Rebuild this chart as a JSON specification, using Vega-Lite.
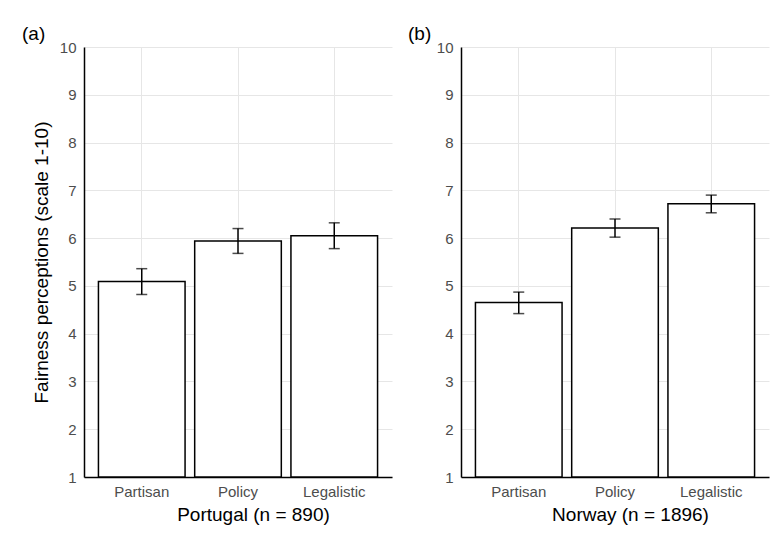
{
  "$schema": "https://vega.github.io/schema/vega-lite/v6.json",
  "background": "white",
  "padding": {"left": 22, "top": 25, "right": 10, "bottom": 10},
  "datasets": {
    "fair": [
      {"country": "Portugal", "type": "Partisan", "mean": 5.09, "lo": 4.82, "hi": 5.36},
      {"country": "Portugal", "type": "Policy", "mean": 5.94, "lo": 5.68, "hi": 6.20},
      {"country": "Portugal", "type": "Legalistic", "mean": 6.05, "lo": 5.78, "hi": 6.32},
      {"country": "Norway", "type": "Partisan", "mean": 4.65, "lo": 4.42, "hi": 4.87},
      {"country": "Norway", "type": "Policy", "mean": 6.21, "lo": 6.02, "hi": 6.40},
      {"country": "Norway", "type": "Legalistic", "mean": 6.72, "lo": 6.53, "hi": 6.90}
    ]
  },
  "config": {
    "font": "Liberation Sans",
    "view": {"stroke": null},
    "axis": {
      "labelFont": "Liberation Sans", "labelFontSize": 15, "labelColor": "#4d4d4d",
      "titleFont": "Liberation Sans", "titleFontSize": 19, "titleFontWeight": "normal", "titleColor": "black",
      "domainColor": "black", "domainWidth": 1.5, "ticks": false,
      "gridColor": "#e6e6e6", "gridWidth": 1
    },
    "title": {"font": "Liberation Sans", "fontSize": 19, "fontWeight": "normal", "color": "black"}
  },
  "spacing": 69,
  "bounds": "flush",
  "hconcat": [
    {
      "width": 308, "height": 430,
      "data": {"name": "fair"},
      "transform": [{"filter": "datum.country === 'Portugal'"}],
      "title": {"text": "(a)", "anchor": "start", "frame": "group", "dx": -62, "dy": 8},
      "encoding": {
        "x": {"field": "type", "type": "nominal", "sort": ["Partisan", "Policy", "Legalistic"],
              "scale": {"paddingInner": 0.1, "paddingOuter": 0.15},
              "axis": {"title": "Portugal (n = 890)", "grid": true, "labelAngle": 0, "labelPadding": 7, "titlePadding": 6, "titleX": 169}}
      },
      "layer": [
        {"mark": {"type": "bar", "fill": "white", "stroke": "black", "strokeWidth": 1.5},
         "encoding": {
           "y": {"field": "mean", "type": "quantitative", "scale": {"domain": [1, 10], "nice": false, "zero": false},
                 "title": "Fairness perceptions (scale 1-10)",
                 "axis": {"values": [1, 1.5, 2, 2.5, 3, 3.5, 4, 4.5, 5, 5.5, 6, 6.5, 7, 7.5, 8, 8.5, 9, 9.5, 10],
                          "labelExpr": "datum.value % 1 === 0 ? datum.label : ''",
                          "gridWidth": {"condition": {"test": "datum.value % 1 !== 0", "value": 0.7}, "value": 1},
                          "labelPadding": 8, "titlePadding": 8}},
           "y2": {"datum": 1}
         }},
        {"mark": {"type": "rule", "strokeWidth": 1.5, "color": "black"},
         "encoding": {"y": {"field": "lo", "type": "quantitative", "title": "Fairness perceptions (scale 1-10)"}, "y2": {"field": "hi"}}},
        {"mark": {"type": "tick", "size": 11, "thickness": 1.5, "color": "black"},
         "encoding": {"y": {"field": "lo", "type": "quantitative", "title": "Fairness perceptions (scale 1-10)"}}},
        {"mark": {"type": "tick", "size": 11, "thickness": 1.5, "color": "black"},
         "encoding": {"y": {"field": "hi", "type": "quantitative", "title": "Fairness perceptions (scale 1-10)"}}}
      ]
    },
    {
      "width": 308, "height": 430,
      "data": {"name": "fair"},
      "transform": [{"filter": "datum.country === 'Norway'"}],
      "title": {"text": "(b)", "anchor": "start", "frame": "group", "dx": -53, "dy": 8},
      "encoding": {
        "x": {"field": "type", "type": "nominal", "sort": ["Partisan", "Policy", "Legalistic"],
              "scale": {"paddingInner": 0.1, "paddingOuter": 0.15},
              "axis": {"title": "Norway (n = 1896)", "grid": true, "labelAngle": 0, "labelPadding": 7, "titlePadding": 6, "titleX": 169}}
      },
      "layer": [
        {"mark": {"type": "bar", "fill": "white", "stroke": "black", "strokeWidth": 1.5},
         "encoding": {
           "y": {"field": "mean", "type": "quantitative", "scale": {"domain": [1, 10], "nice": false, "zero": false},
                 "title": null,
                 "axis": {"values": [1, 1.5, 2, 2.5, 3, 3.5, 4, 4.5, 5, 5.5, 6, 6.5, 7, 7.5, 8, 8.5, 9, 9.5, 10],
                          "labelExpr": "datum.value % 1 === 0 ? datum.label : ''",
                          "gridWidth": {"condition": {"test": "datum.value % 1 !== 0", "value": 0.7}, "value": 1},
                          "labelPadding": 8}},
           "y2": {"datum": 1}
         }},
        {"mark": {"type": "rule", "strokeWidth": 1.5, "color": "black"},
         "encoding": {"y": {"field": "lo", "type": "quantitative", "title": null}, "y2": {"field": "hi"}}},
        {"mark": {"type": "tick", "size": 11, "thickness": 1.5, "color": "black"},
         "encoding": {"y": {"field": "lo", "type": "quantitative", "title": null}}},
        {"mark": {"type": "tick", "size": 11, "thickness": 1.5, "color": "black"},
         "encoding": {"y": {"field": "hi", "type": "quantitative", "title": null}}}
      ]
    }
  ]
}
